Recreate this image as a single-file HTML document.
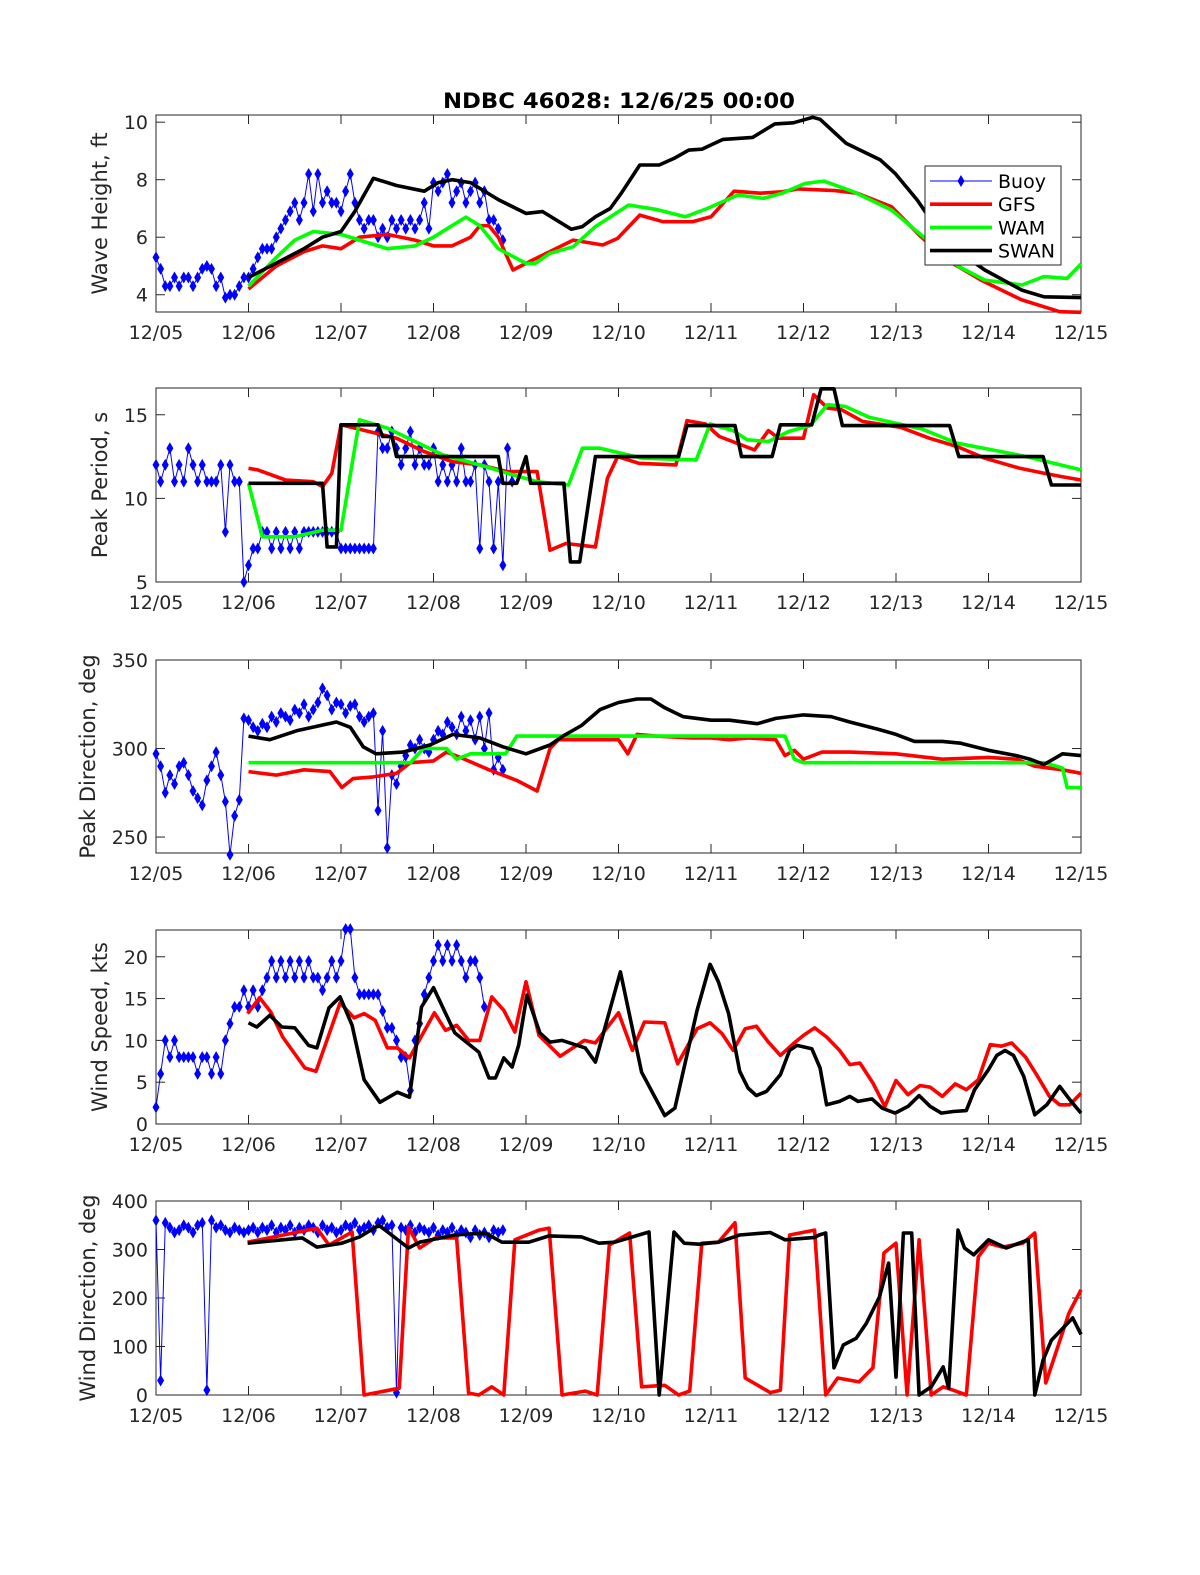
<!DOCTYPE html>
<html><head><meta charset="utf-8"><style>
html,body{margin:0;padding:0;background:#fff;}
svg{display:block;font-family:"DejaVu Sans","Liberation Sans",sans-serif;}
</style></head><body>
<svg id="fig" width="1200" height="1575" viewBox="0 0 1200 1575" xmlns="http://www.w3.org/2000/svg">
<rect width="1200" height="1575" fill="#fff"/>
<text x="619" y="108" text-anchor="middle" font-weight="bold" font-size="21" textLength="352" lengthAdjust="spacingAndGlyphs" fill="#000">NDBC 46028: 12/6/25 00:00</text>
</svg>
<script>
// ---- shared x categories ----
const dayLabels = ["12/05","12/06","12/07","12/08","12/09","12/10","12/11","12/12","12/13","12/14","12/15"];
const buoyStep = 0.05;

// ---- Panel 1: wave height (ft) ----
const hBuoy = [5.3,4.9,4.3,4.3,4.6,4.3,4.6,4.6,4.3,4.6,4.9,5.0,4.9,4.3,4.6,3.9,4.0,4.0,4.3,4.6,4.6,4.9,5.3,5.6,5.6,5.6,6.0,6.3,6.6,6.9,7.2,6.6,7.2,8.2,6.9,8.2,7.2,7.6,7.2,7.2,6.9,7.6,8.2,7.2,6.6,6.3,6.6,6.6,6.0,6.3,6.0,6.6,6.3,6.6,6.3,6.6,6.3,6.6,7.2,6.3,7.9,7.6,7.9,8.2,7.2,7.6,7.9,7.2,7.6,7.9,7.2,7.6,6.6,6.6,6.3,5.9];
const hGfsT = [1,1.3,1.6,1.8,2.0,2.2,2.5,2.8,3.0,3.2,3.4,3.5,3.6,3.7,3.86,4.0,4.22,4.51,4.83,4.99,5.23,5.48,5.8,6.0,6.25,6.53,6.77,6.94,7.34,7.58,7.95,8.27,8.55,8.92,9.36,9.77,10];
const hGfsV = [4.2,5.0,5.5,5.7,5.6,6.0,6.1,5.9,5.7,5.7,6.0,6.4,6.4,6.0,4.86,5.09,5.44,5.9,5.73,5.96,6.77,6.54,6.54,6.71,7.6,7.53,7.58,7.68,7.62,7.53,7.06,6.02,5.21,4.51,3.82,3.41,3.39];
const hWamT = [1,1.3,1.5,1.7,2.0,2.3,2.5,2.8,3.0,3.2,3.35,3.5,3.7,4.0,4.1,4.26,4.51,4.75,5.11,5.4,5.72,5.96,6.29,6.57,6.77,7.02,7.22,7.54,7.95,8.27,8.68,8.96,9.36,9.6,9.85,10];
const hWamV = [4.3,5.3,5.9,6.2,6.1,5.8,5.6,5.7,6.0,6.4,6.7,6.4,5.6,5.09,5.09,5.44,5.67,6.37,7.12,6.97,6.71,7.0,7.47,7.35,7.53,7.87,7.95,7.58,6.95,6.08,4.98,4.51,4.34,4.63,4.57,5.07];
const hSwanT = [1,1.3,1.6,1.8,2.0,2.15,2.35,2.6,2.9,3.05,3.2,3.4,3.7,4.0,4.18,4.49,4.61,4.75,4.91,5.03,5.23,5.44,5.6,5.76,5.9,6.13,6.45,6.69,6.89,7.1,7.18,7.46,7.83,7.99,8.23,8.55,8.96,9.36,9.6,10];
const hSwanV = [4.6,5.1,5.6,6.0,6.2,6.9,8.05,7.8,7.6,7.9,8.0,7.9,7.31,6.83,6.89,6.28,6.37,6.71,7.0,7.53,8.51,8.51,8.74,9.03,9.06,9.4,9.47,9.94,9.98,10.17,10.1,9.27,8.69,8.22,7.29,5.79,4.86,4.16,3.93,3.9];

// ---- Panel 2: peak period (s) ----
const pBuoy = [12,11,12,13,11,12,11,13,12,11,12,11,11,11,12,8,12,11,11,5,6,7,7,8,8,7,8,7,8,7,8,7,8,8,8,8,8,8,8,8,7,7,7,7,7,7,7,7,14,13,13,14,13,12,13,14,12,13,12,12,13,11,12,11,12,11,13,11,11,12,7,12,11,7,11,6,13,11];
const pGfsT = [1,1.1,1.4,1.7,1.8,1.9,2.0,2.3,2.6,2.9,3.2,3.5,3.8,4.12,4.26,4.43,4.75,4.88,4.99,5.22,5.62,5.74,5.94,6.09,6.47,6.62,6.73,7.0,7.11,7.26,7.41,7.64,8.05,8.36,8.66,8.96,9.34,9.6,9.79,10];
const pGfsV = [11.8,11.7,11.1,11.0,10.7,11.5,14.4,14.0,13.6,12.8,12.2,12.0,11.6,11.6,6.9,7.3,7.1,11.2,12.5,12.1,12.0,14.65,14.45,13.7,12.9,14.05,13.6,13.6,16.2,15.4,15.3,14.6,14.25,13.6,13.1,12.4,11.8,11.5,11.3,11.1];
const pWamT = [1,1.15,1.5,1.8,2.0,2.2,2.5,2.8,3.1,3.5,3.8,4.12,4.46,4.61,4.8,5.26,5.84,5.99,6.24,6.39,6.62,6.84,7.07,7.26,7.45,7.71,8.28,8.66,9.04,9.41,10];
const pWamV = [10.9,7.7,7.7,8.1,8.1,14.7,14.2,13.4,12.6,12.0,11.5,11.0,10.8,13.0,13.0,12.4,12.3,14.45,14.05,13.5,13.4,14.0,14.35,15.6,15.5,14.85,14.15,13.3,12.9,12.5,11.7];
const pSwanT = [1,1.8,1.85,1.95,2.0,2.4,2.45,2.55,2.6,3.7,3.75,3.9,4.0,4.05,4.41,4.48,4.58,4.75,5.65,5.74,6.26,6.33,6.66,6.75,7.09,7.19,7.33,7.42,8.58,8.68,9.59,9.68,10];
const pSwanV = [10.9,10.9,7.1,7.1,14.4,14.4,13.7,13.7,12.5,12.5,10.9,10.9,12.5,10.9,10.9,6.2,6.2,12.5,12.5,14.35,14.35,12.5,12.5,14.4,14.4,16.55,16.55,14.35,14.35,12.5,12.5,10.8,10.8];

// ---- Panel 3: peak direction (deg) ----
const dBuoy = [297,290,275,285,280,290,292,285,276,272,268,282,290,298,285,270,240,262,271,317,316,312,310,314,312,318,315,320,318,316,322,320,325,318,322,326,334,330,322,326,325,320,324,325,318,315,318,320,265,310,244,285,280,290,296,302,300,305,300,298,305,310,308,315,312,308,318,310,316,305,318,300,320,288,295,288];
const dGfsT = [1,1.3,1.6,1.88,2.01,2.13,2.35,2.6,2.75,3.0,3.14,3.29,3.6,3.9,4.12,4.26,4.35,4.7,5.0,5.1,5.2,5.4,5.8,6.0,6.2,6.4,6.7,6.8,6.9,7.0,7.2,7.5,8.0,8.5,9.0,9.3,9.5,9.8,10];
const dGfsV = [287,285,288,287,278,283,284,286,292,293,298,295,288,282,276,300,305,305,305,297,308,307,306,306,305,306,305,296,299,294,298,298,297,294,295,294,290,288,286];
const dWamT = [1,2.75,2.89,3.14,3.25,3.4,3.78,3.9,6.8,6.9,7.0,9.6,9.8,9.85,10];
const dWamV = [292,292,300,300,294,297,297,307,307,294,292,292,289,278,278];
const dSwanT = [1,1.23,1.52,1.95,2.1,2.24,2.38,2.67,2.96,3.21,3.5,3.75,4.0,4.26,4.4,4.6,4.8,5.0,5.2,5.35,5.5,5.7,6.0,6.2,6.5,6.7,7.0,7.3,7.5,7.8,8.0,8.2,8.5,8.7,9.0,9.3,9.45,9.6,9.8,10];
const dSwanV = [307,305,310,315,312,301,297,298,302,308,306,301,297,302,307,313,322,326,328,328,323,318,316,316,314,317,319,318,315,311,308,304,304,303,299,296,294,291,297,296];

// ---- Panel 4: wind speed (kts) ----
const sBuoy = [2,6,10,8,10,8,8,8,8,6,8,8,6,8,6,10,12,14,14,16,14,16,14,16,17.5,19.5,17.5,19.5,17.5,19.5,17.5,19.5,17.5,19.5,17.5,17.5,16,17.5,19.5,17.5,19.5,23.3,23.3,17.5,15.5,15.5,15.5,15.5,15.5,13.5,11.5,11.5,10,8,8,4,10,12,15.5,17.5,19.5,21.4,19.5,21.4,19.5,21.4,19.5,17.5,19.5,19.5,17.5,14];
const sGfsT = [0.99,1.12,1.24,1.37,1.61,1.73,1.99,2.14,2.25,2.37,2.5,2.61,2.74,3.01,3.13,3.25,3.38,3.5,3.63,3.76,3.88,4.0,4.14,4.37,4.63,4.75,5.0,5.15,5.28,5.5,5.64,5.85,5.99,6.12,6.24,6.37,6.49,6.62,6.75,6.89,7.0,7.12,7.25,7.39,7.5,7.61,7.75,7.88,8.0,8.13,8.26,8.37,8.5,8.64,8.76,8.89,9.02,9.14,9.25,9.4,9.52,9.66,9.77,9.88,10];
const sGfsV = [13.2,15.1,13.4,10.4,6.7,6.3,14.5,12.7,13.2,12.4,9.1,9.1,7.9,13.3,11.2,11.8,10.0,10.0,15.2,13.6,11.0,17.0,10.6,8.1,10.0,9.7,13.3,8.8,12.2,12.1,7.2,11.4,12.1,10.8,8.8,11.4,11.7,9.8,8.2,9.6,10.6,11.5,10.4,8.8,7.1,7.3,4.9,2.1,5.2,3.5,4.6,4.4,3.3,4.8,4.1,5.3,9.5,9.3,9.7,8.0,5.9,3.3,2.3,2.3,3.7];
const sSwanT = [1.0,1.09,1.23,1.36,1.5,1.65,1.74,1.87,1.99,2.12,2.25,2.42,2.61,2.74,2.87,3.0,3.23,3.49,3.6,3.67,3.76,3.85,3.92,4.01,4.15,4.26,4.39,4.64,4.75,5.02,5.25,5.5,5.61,5.85,5.99,6.08,6.19,6.31,6.4,6.49,6.6,6.75,6.85,6.93,7.09,7.18,7.25,7.39,7.5,7.59,7.74,7.85,7.99,8.13,8.25,8.37,8.49,8.62,8.76,8.85,9.0,9.09,9.18,9.27,9.38,9.5,9.63,9.77,9.88,10];
const sSwanV = [12.1,11.6,13.0,11.6,11.5,9.4,9.1,13.9,15.2,11.8,5.3,2.6,3.8,3.2,14.0,16.3,10.9,8.6,5.5,5.5,7.9,6.8,9.4,15.4,10.9,9.8,10.0,9.1,7.4,18.2,6.2,1.0,1.9,13.6,19.1,17.0,13.2,6.3,4.3,3.4,3.9,5.9,8.8,9.4,9.0,6.7,2.3,2.7,3.3,2.7,3.0,1.9,1.3,2.1,3.4,2.1,1.3,1.5,1.6,4.1,6.5,8.2,8.8,8.2,5.7,1.1,2.3,4.5,2.9,1.3];

// ---- Panel 5: wind direction (deg) ----
const wBuoy = [360,30,355,345,335,340,350,345,335,350,355,10,360,345,350,340,335,345,340,335,340,345,335,345,340,350,335,345,340,350,335,345,340,350,345,335,350,340,345,335,340,350,345,355,340,345,350,340,355,360,345,350,5,345,340,350,335,345,340,335,345,330,340,335,345,330,340,335,325,340,330,335,325,340,335,340];
const wGfsT = [0.99,1.74,1.87,2.12,2.25,2.63,2.73,2.85,3.02,3.25,3.38,3.49,3.63,3.76,3.88,4.14,4.25,4.39,4.64,4.77,4.9,5.12,5.25,5.5,5.65,5.77,5.9,6.08,6.26,6.37,6.64,6.75,6.85,7.12,7.24,7.37,7.6,7.75,7.87,8.0,8.12,8.25,8.38,8.51,8.62,8.76,8.89,9.0,9.15,9.37,9.5,9.62,9.87,10];
const wGfsV = [315,344,309,336,0,14,346,303,324,324,4,0,17,0,320,340,344,0,8,0,309,334,17,20,0,8,313,315,355,35,5,10,330,340,0,35,27,56,293,313,0,320,0,17,10,0,285,313,305,313,334,25,169,217];
const wSwanT = [0.99,1.58,1.74,2.01,2.2,2.41,2.73,2.85,3.23,3.56,3.74,4.03,4.25,4.6,4.79,4.96,5.33,5.44,5.6,5.71,5.87,6.08,6.31,6.64,6.8,7.12,7.17,7.24,7.33,7.43,7.57,7.68,7.82,7.92,8.0,8.08,8.17,8.25,8.38,8.51,8.57,8.67,8.74,8.84,9.0,9.19,9.43,9.5,9.59,9.68,9.91,10];
const wSwanV = [313,324,305,313,326,350,303,315,330,334,315,315,328,326,313,315,336,0,336,313,311,315,330,335,320,325,330,334,56,103,117,148,202,272,37,334,334,0,17,58,14,340,303,289,320,303,320,0,72,113,159,125];

// ---- layout (pixels; not data) ----
const X0 = 156, X1 = 1081, XMIN = 0, XMAX = 10;
const panels = [
  {key:"wave-height", top:115, bot:312, ymin:3.4, ymax:10.25, ticks:[4,6,8,10], label:"Wave Height, ft", lx:100},
  {key:"peak-period", top:388, bot:582, ymin:5, ymax:16.6, ticks:[5,10,15], label:"Peak Period, s", lx:100},
  {key:"peak-direction", top:660, bot:853, ymin:241, ymax:350, ticks:[250,300,350], label:"Peak Direction, deg", lx:88},
  {key:"wind-speed", top:930, bot:1124, ymin:0, ymax:23.2, ticks:[0,5,10,15,20], label:"Wind Speed, kts", lx:100},
  {key:"wind-direction", top:1201, bot:1395, ymin:0, ymax:400, ticks:[0,100,200,300,400], label:"Wind Direction, deg", lx:88}
];
const NS = "http://www.w3.org/2000/svg";
const svg = document.getElementById("fig");
function mk(tag, attrs, parent) {
  const e = document.createElementNS(NS, tag);
  for (const k in attrs) e.setAttribute(k, attrs[k]);
  (parent || svg).appendChild(e);
  return e;
}
function xs(d) { return X0 + (d - XMIN) / (XMAX - XMIN) * (X1 - X0); }
function ysFor(p) { return v => p.bot - (v - p.ymin) / (p.ymax - p.ymin) * (p.bot - p.top); }

function drawAxes(p) {
  const g = mk("g", {});
  
  
  const ys = ysFor(p);
  const box = mk("rect", {x:X0, y:p.top, width:X1-X0, height:p.bot-p.top, fill:"none", stroke:"#262626", "stroke-width":1}, g);
  
  
  dayLabels.forEach((lab, i) => {
    const x = xs(i);
    mk("line", {x1:x, y1:p.bot, x2:x, y2:p.bot-9, stroke:"#262626"}, g);
    mk("line", {x1:x, y1:p.top, x2:x, y2:p.top+9, stroke:"#262626"}, g);
    const t = mk("text", {x:x, y:p.bot+27, "text-anchor":"middle", "font-size":19, fill:"#262626"}, g);
    t.textContent = lab;
    
    
  });
  p.ticks.forEach(v => {
    const y = ys(v);
    mk("line", {x1:X0, y1:y, x2:X0+9, y2:y, stroke:"#262626"}, g);
    mk("line", {x1:X1, y1:y, x2:X1-9, y2:y, stroke:"#262626"}, g);
    const t = mk("text", {x:X0-8, y:y+7, "text-anchor":"end", "font-size":19, fill:"#262626"}, g);
    t.textContent = v;
    
    
  });
  const cy = (p.top + p.bot) / 2;
  const yl = mk("text", {x:p.lx, y:cy, transform:"rotate(-90 " + p.lx + " " + cy + ")", "text-anchor":"middle", "font-size":21, fill:"#262626", dy:"7"}, g);
  yl.textContent = p.label;
  
  
}
function drawLine(p, ts, vs, color, name) {
  const ys = ysFor(p);
  const pts = ts.map((t, i) => xs(t).toFixed(1) + "," + ys(vs[i]).toFixed(1)).join(" ");
  const l = mk("polyline", {points:pts, fill:"none", stroke:color, "stroke-width":3.6, "stroke-linejoin":"round"});
  
  
}
function drawBuoy(p, vs) {
  const ys = ysFor(p);
  const g = mk("g", {});
  
  
  const pts = vs.map((v, i) => [xs(i * buoyStep), ys(v)]);
  mk("polyline", {points:pts.map(q => q[0].toFixed(1) + "," + q[1].toFixed(1)).join(" "), fill:"none", stroke:"#0000ff", "stroke-width":1}, g);
  pts.forEach(q => {
    const m = mk("path", {d:"M" + q[0] + " " + (q[1]-6) + "L" + (q[0]+3.5) + " " + q[1] + "L" + q[0] + " " + (q[1]+6) + "L" + (q[0]-3.5) + " " + q[1] + "Z", fill:"#0000ff"}, g);
    
    
  });
}
panels.forEach(drawAxes);
const [P1, P2, P3, P4, P5] = panels;
drawBuoy(P1, hBuoy); drawLine(P1, hGfsT, hGfsV, "#ff0000", "gfs"); drawLine(P1, hWamT, hWamV, "#00ff00", "wam"); drawLine(P1, hSwanT, hSwanV, "#000000", "swan");
drawBuoy(P2, pBuoy); drawLine(P2, pGfsT, pGfsV, "#ff0000", "gfs"); drawLine(P2, pWamT, pWamV, "#00ff00", "wam"); drawLine(P2, pSwanT, pSwanV, "#000000", "swan");
drawBuoy(P3, dBuoy); drawLine(P3, dGfsT, dGfsV, "#ff0000", "gfs"); drawLine(P3, dWamT, dWamV, "#00ff00", "wam"); drawLine(P3, dSwanT, dSwanV, "#000000", "swan");
drawBuoy(P4, sBuoy); drawLine(P4, sGfsT, sGfsV, "#ff0000", "gfs"); drawLine(P4, sSwanT, sSwanV, "#000000", "swan");
drawBuoy(P5, wBuoy); drawLine(P5, wGfsT, wGfsV, "#ff0000", "gfs"); drawLine(P5, wSwanT, wSwanV, "#000000", "swan");

// legend
const lg = mk("g", {});


mk("rect", {x:925, y:166, width:136, height:99, fill:"#fff", stroke:"#262626", "stroke-width":1}, lg);
const legNames = ["Buoy","GFS","WAM","SWAN"];
const legColors = ["#0000ff","#ff0000","#00ff00","#000000"];
legNames.forEach((n, i) => {
  const y = 181 + i * 23.2;
  const e = mk("g", {}, lg);
  
  
  mk("line", {x1:930, y1:y, x2:992, y2:y, stroke:legColors[i], "stroke-width": i === 0 ? 1 : 3.6}, e);
  if (i === 0) mk("path", {d:"M961 " + (y-6) + "L964.5 " + y + "L961 " + (y+6) + "L957.5 " + y + "Z", fill:"#0000ff"}, e);
  const t = mk("text", {x:998, y:y+7, "font-size":19, fill:"#000"}, e);
  t.textContent = n;
});
</script>
</body></html>
